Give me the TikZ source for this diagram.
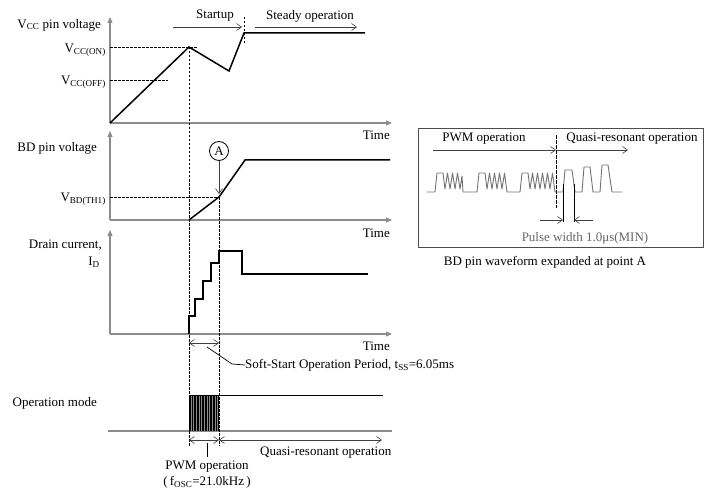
\documentclass[tikz,border=0pt]{standalone}
\usepackage{fontspec}
\setmainfont{Liberation Serif}
\usepackage{tikz}
\usetikzlibrary{arrows.meta}
\usetikzlibrary{positioning}
\usetikzlibrary{calc}
\definecolor{axisgray}{gray}{0.55}
\definecolor{wavegray}{gray}{0.45}
\tikzstyle{axis} = [axisgray, line width=1.1pt, -{Triangle[length=6pt,width=5pt]}]
\tikzstyle{curve} = [black, line width=1.5pt, line join=miter]
\tikzstyle{guide} = [black, line width=0.6pt, dash pattern=on 2.5pt off 1.5pt]
\tikzstyle{span} = [black!75, line width=0.6pt, -{Straight Barb[length=5pt,width=7pt]}]
\tikzstyle{spans} = [black!75, line width=0.6pt, {Straight Barb[length=5pt,width=7pt]}-{Straight Barb[length=5pt,width=7pt]}]

\begin{document}
\begin{tikzpicture}[x=1pt, y=-1pt,
		lbl/.style = {font=\fontsize{13}{15}\selectfont, inner sep=0pt}]

		\useasboundingbox (0,0) rectangle (706,489);

		% Vcc pin voltage
		\coordinate (O1) at (110,123);
		\coordinate (Y1) at (110,17);
		\coordinate (X1) at (392,123);
		\draw[axis] (O1) -- (Y1);
		\draw[axis] (O1) -- (X1);
		\node[lbl, anchor=east] (time1) at (390,135) {Time};
		\node[lbl, anchor=east] (vcc) at (101,25) {V\textsubscript{CC} pin voltage};
		\coordinate (vccpk) at (189,47);
		\coordinate (vccvl) at (229,71);
		\coordinate (vccst) at (244,33);
		\coordinate (vccend) at (365,33);
		\draw[guide] (110,47) -- (197,47);
		\draw[guide] (110,80) -- (168,80);
		\node[lbl, anchor=east] (von) at (106,50) {V\textsubscript{CC(ON)}};
		\node[lbl, anchor=east] (voff) at (106,82) {V\textsubscript{CC(OFF)}};
		\draw[curve] (O1) -- (vccpk) -- (vccvl) -- (vccst) -- (vccend);
		\draw[guide] (244,17) -- (244,45);
		\draw[span] (173,27) -- (242,27);
		\draw[span] (255,27) -- (357,27);
		\node[lbl] (startup) at (215,16) {Startup};
		\node[lbl] (steady) at (310,16) {Steady operation};

		% BD pin voltage
		\coordinate (O2) at (110,220);
		\coordinate (Y2) at (110,131);
		\coordinate (X2) at (392,220);
		\draw[axis] (O2) -- (Y2);
		\draw[axis] (O2) -- (X2);
		\node[lbl, anchor=east] (time2) at (390,233) {Time};
		\node[lbl, anchor=east] (bd) at (97,148) {BD pin voltage};
		\coordinate (bd0) at (189,220);
		\coordinate (bdth) at (219,197);
		\coordinate (bdtop) at (245,160);
		\coordinate (bdend) at (390,160);
		\draw[guide] (110,197) -- (bdth);
		\node[lbl, anchor=east] (vbd) at (106,199) {V\textsubscript{BD(TH1)}};
		\draw[curve] (bd0) -- (bdth) -- (bdtop) -- (bdend);
		\node[lbl, circle, draw, line width=0.8pt, minimum size=19pt] (ptA) at (219,151) {A};
		\draw[span] (ptA.south) -- ($(bdth)+(0,-3)$);

		% Drain current
		\coordinate (O3) at (110,334);
		\coordinate (Y3) at (110,230);
		\coordinate (X3) at (392,334);
		\draw[axis] (O3) -- (Y3);
		\draw[axis] (O3) -- (X3);
		\node[lbl, anchor=east] (time3) at (390,346) {Time};
		\node[lbl, anchor=east] (drain) at (102,245) {Drain current,};
		\node[lbl, anchor=east] (id) at (100,262) {I\textsubscript{D}};
		\draw[curve] (189,334) -- (189,316) -- (195,316) -- (195,299) -- (203,299)
			-- (203,281) -- (211,281) -- (211,263) -- (219,263) -- (219,251)
			-- (242,251) -- (242,274) -- (368,274);

		% Soft-start period
		\draw[spans] (189,343) -- (219,343);
		\node[lbl, anchor=west] (tss) at (245,365) {Soft-Start Operation Period, t\textsubscript{SS}=6.05ms};
		\draw[black, line width=0.7pt] (207,347) -- (232,364) -- (tss.west);

		% Operation mode
		\draw[axisgray, line width=1.3pt] (108,431) -- (392,431);
		\node[lbl, anchor=east] (mode) at (97,403) {Operation mode};
		\fill[black!45] (189,395) rectangle (219,431);
		\foreach \x in {189,190.6,...,219}
			\draw[black, line width=0.55pt] (\x,395) -- (\x,431);
		\draw[black, line width=0.9pt] (189,395) -- (383,395);

		% Time markers
		\draw[guide] (vccpk) -- (189,446);
		\draw[guide] (bdth) -- (219,446);

		% Mode spans
		\draw[spans] (189,440) -- (219,440);
		\draw[spans] (219,440) -- (382,440);
		\draw[black, line width=0.8pt] (207,443) -- (207,457);
		\node[lbl] (pwm) at (207,467) {PWM operation};
		\node[lbl] (fosc) at (207,482) {(\,f\textsubscript{OSC}=21.0kHz\,)};
		\node[lbl, anchor=west] (qr) at (260,453) {Quasi-resonant operation};

		% Expanded BD waveform
		\draw[black!70, line width=1pt] (418,129) rectangle (703,247);
		\node[lbl] (pwmA) at (484,139) {PWM operation};
		\node[lbl] (qrA) at (632,139) {Quasi-resonant operation};
		\draw[span] (433,150) -- (556,150);
		\draw[span] (556,150) -- (628,150);
		\draw[black, line width=0.6pt, dash pattern=on 4pt off 1pt] (556,135) -- (556,208);
		\draw[wavegray, line width=0.9pt, line join=round]
			(427,192) -- (435,192) -- (437,173) -- (443,173)
			-- (445,189) -- (447.5,173) -- (450,189) -- (452.5,173) -- (455,189) -- (457.5,173)
			-- (460,189) -- (462,176) -- (463,192) -- (477,192)
			-- (479,173) -- (485,173)
			-- (487,189) -- (489.5,173) -- (492,189) -- (494.5,173) -- (497,189) -- (499.5,173)
			-- (502,189) -- (504.5,173) -- (507,192) -- (520,192)
			-- (522,173) -- (528,173)
			-- (530,189) -- (532.5,173) -- (535,189) -- (537.5,173) -- (540,189) -- (542.5,173)
			-- (545,189) -- (547.5,173) -- (550,189) -- (552.5,173)
			-- (555,192) -- (563,192)
			-- (565,170) -- (572,170) -- (575,192) -- (582,192)
			-- (584,167) -- (590,167) -- (593,192) -- (600,192)
			-- (602,165) -- (608,165) -- (612,192) -- (622,192);
		\draw[black, line width=0.7pt] (563,184) -- (563,222);
		\draw[black, line width=0.7pt] (574,184) -- (574,222);
		\draw[span] (540,220) -- (563,220);
		\draw[span] (593,220) -- (574,220);
		\node[lbl, text=black!60] (pw) at (585,238) {Pulse width 1.0μs(MIN)};
		\node[lbl] (cap) at (545,262) {BD pin waveform expanded at point A};
\end{tikzpicture}
\end{document}
